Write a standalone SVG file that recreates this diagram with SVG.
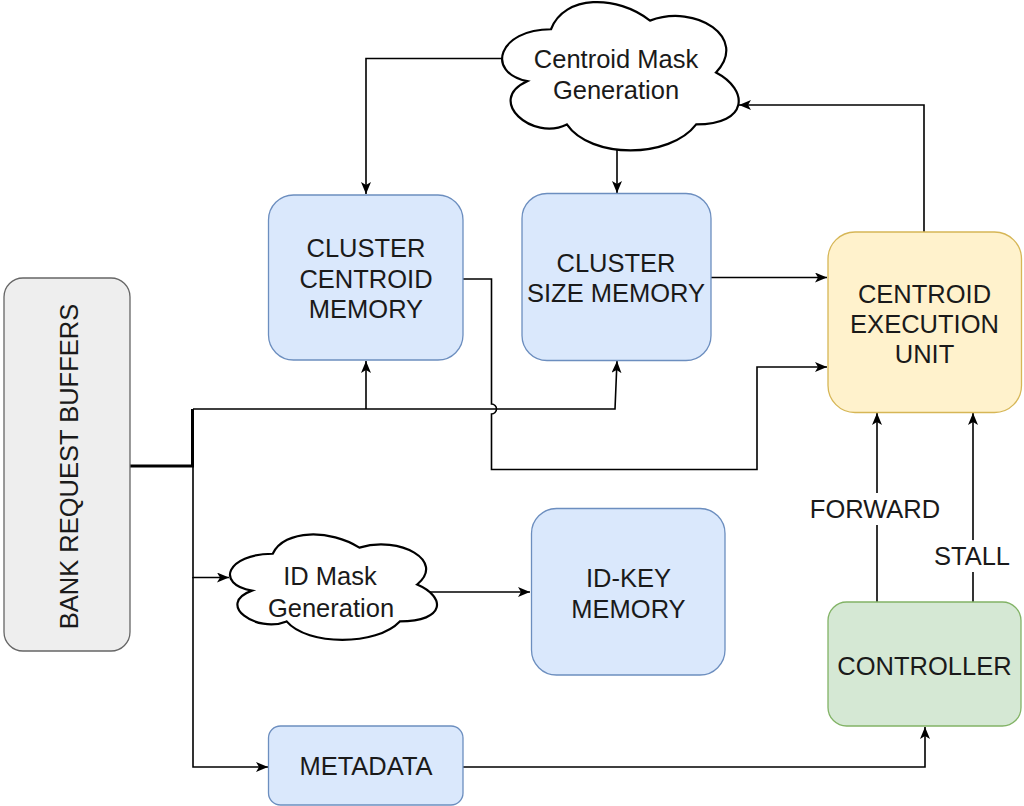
<svg xmlns="http://www.w3.org/2000/svg" width="1024" height="806" viewBox="0 0 1024 806">
<defs>
<marker id="arr" viewBox="0 0 12 10" refX="12" refY="5" markerWidth="12" markerHeight="10" markerUnits="userSpaceOnUse" orient="auto">
<path d="M0,0 L12,5 L0,10 L3,5 Z" fill="#000"/>
</marker>
<style>
text{font-family:"Liberation Sans",Arial,sans-serif;font-size:25.5px;fill:#1a1a1a;text-anchor:middle}
.blue{fill:#dae8fc;stroke:#6c8ebf;stroke-width:1.3}
.yellow{fill:#fff2cc;stroke:#d6b656;stroke-width:1.3}
.green{fill:#d5e8d4;stroke:#82b366;stroke-width:1.3}
.gray{fill:#eeeeee;stroke:#666666;stroke-width:1.3}
.cloud{fill:#fff;stroke:#000;stroke-width:2.2}
.c{fill:none;stroke:#000;stroke-width:1.6}
.a{marker-end:url(#arr)}
</style>
</defs>
<rect width="1024" height="806" fill="#fff"/>

<g id="connectors">
<path class="c a" d="M503,58.5 H366 V194"/>
<path class="c a" d="M617,150 V193"/>
<path class="c a" d="M924,232 V105 H739"/>
<path class="c a" d="M711,277.5 H827"/>
<path class="c a" d="M463,279 H491.5 V404 A5,5 0 0 1 491.5,414 V469.5 H757 V367 H827"/>
<path class="c" style="stroke-width:3" d="M130,466 H192.5 V409"/>
<path class="c a" d="M193,409 H615 L617,361"/>
<path class="c a" d="M366,409 V361"/>
<path class="c a" d="M193,466 V577.5 H229"/>
<path class="c a" d="M193,577 V767 H268"/>
<path class="c a" d="M420,592 H530"/>
<path class="c a" d="M463,767 H925 V727"/>
<path class="c a" d="M877,602 V413"/>
<path class="c a" d="M973,602 V413"/>
<rect x="808" y="493" width="136" height="32" fill="#fff"/>
<text x="875" y="518">FORWARD</text>
<rect x="930" y="540" width="84" height="32" fill="#fff"/>
<text x="972" y="565">STALL</text>
</g>

<g id="bank">
<rect class="gray" x="4" y="278" width="126" height="373" rx="19"/>
<text transform="translate(78,466.5) rotate(-90)">BANK REQUEST BUFFERS</text>
</g>

<g id="centroid-mask">
<path class="cloud" d="M551,29.25 C498.2,29.25 485,72.5 527.24,81.15 C485,100.18 532.52,141.7 566.84,124.4 C590.6,159 669.8,159 696.2,124.4 C749,124.4 749,89.8 716,72.5 C749,37.9 696.2,3.3 650,20.6 C617,-5.35 564.2,-5.35 551,29.25 Z"/>
<text x="616" y="67.5">Centroid Mask</text>
<text x="616" y="99">Generation</text>
</g>

<g id="cluster-centroid">
<rect class="blue" x="268.5" y="195" width="194.5" height="165" rx="25"/>
<text x="366" y="257">CLUSTER</text>
<text x="366" y="287.5">CENTROID</text>
<text x="366" y="318">MEMORY</text>
</g>

<g id="cluster-size">
<rect class="blue" x="522" y="193.5" width="189" height="167" rx="25"/>
<text x="616" y="271.5">CLUSTER</text>
<text x="616" y="301.5">SIZE MEMORY</text>
</g>

<g id="ceu">
<rect class="yellow" x="828" y="232" width="193.5" height="180.5" rx="27"/>
<text x="924.5" y="302.5">CENTROID</text>
<text x="924.5" y="333">EXECUTION</text>
<text x="924.5" y="363">UNIT</text>
</g>

<g id="id-mask">
<path class="cloud" d="M272.75,553.75 C226.55,553.75 215,584.5 251.96,590.65 C215,604.18 256.58,633.7 286.61,621.4 C307.4,646 376.7,646 399.8,621.4 C446,621.4 446,596.8 417.13,584.5 C446,560.9 399.8,535.3 359.38,547.6 C330.5,529.15 284.3,529.15 272.75,553.75 Z"/>
<text x="330" y="585">ID Mask</text>
<text x="331" y="616.5">Generation</text>
</g>

<g id="id-key">
<rect class="blue" x="531.5" y="508.5" width="193.5" height="166.5" rx="25"/>
<text x="628.5" y="587">ID-KEY</text>
<text x="628.5" y="618">MEMORY</text>
</g>

<g id="controller">
<rect class="green" x="828" y="602" width="193" height="124" rx="18.6"/>
<text x="924.5" y="675">CONTROLLER</text>
</g>

<g id="metadata">
<rect class="blue" x="268.5" y="726" width="194.5" height="79" rx="12"/>
<text x="366" y="775">METADATA</text>
</g>
</svg>
